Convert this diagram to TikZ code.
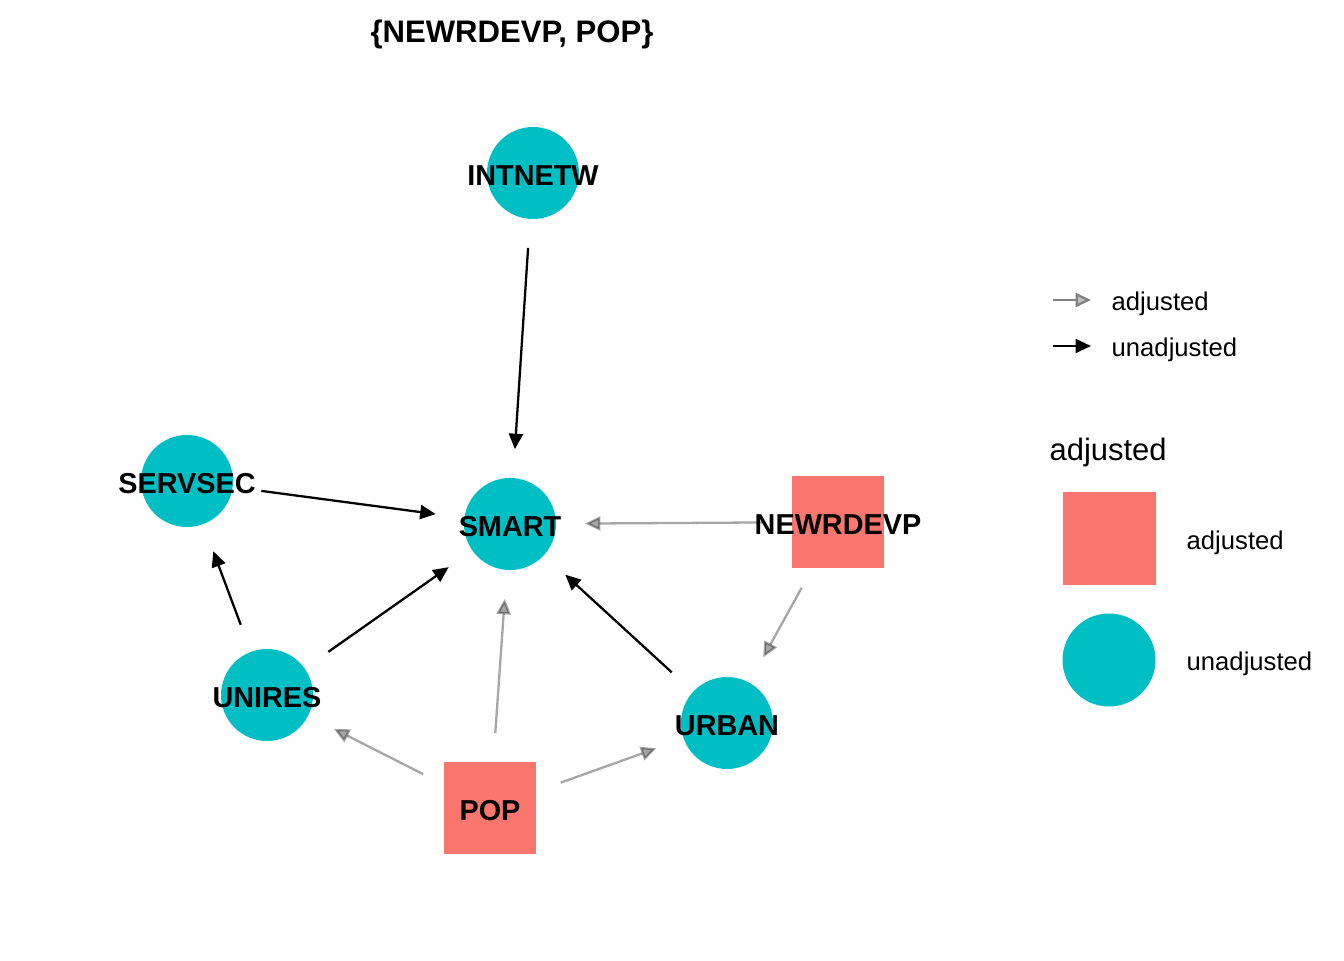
\documentclass[tikz,border=0pt]{standalone}
\usepackage{fontspec}
\setmainfont{Liberation Sans}
\usepackage{tikz}
\usetikzlibrary{arrows.meta}
\definecolor{adjcol}{HTML}{F8766D}
\definecolor{unadjcol}{HTML}{00BFC4}
\tikzset{
  circnode/.style={circle, fill=unadjcol, minimum size=0.92cm, inner sep=0pt},
  sqnode/.style={rectangle, fill=adjcol, minimum size=0.92cm, inner sep=0pt},
  nodelabel/.style={font=\fontsize{8.2}{10}\selectfont\bfseries, inner sep=0pt, yshift=-0.025cm},
  legtext/.style={font=\fontsize{7.3}{9}\selectfont, anchor=west, inner sep=0pt},
  edgeu/.style={-{Triangle[length=4.4pt,width=4pt]}, line width=0.65pt, black, shorten <=0.75cm, shorten >=0.75cm},
  edgea/.style={edgeu, draw opacity=0.35, fill opacity=0.35}
}

\begin{document}
\begin{tikzpicture}
  \useasboundingbox (0,0) rectangle (13.44,9.6);
  \node[font=\fontsize{8.85}{11}\selectfont\bfseries] (title) at (5.12,9.26) {\{NEWRDEVP, POP\}};

  % nodes
  \node[circnode] (intnetw) at (5.33,7.87) {};
  \node[circnode] (servsec) at (1.87,4.79) {};
  \node[circnode] (smart) at (5.10,4.36) {};
  \node[sqnode] (newrdevp) at (8.38,4.38) {};
  \node[circnode] (unires) at (2.67,2.65) {};
  \node[circnode] (urban) at (7.27,2.37) {};
  \node[sqnode] (pop) at (4.90,1.52) {};

  % edges
  \draw[edgeu] (intnetw.center) -- (smart.center);
  \draw[edgeu] (servsec.center) -- (smart.center);
  \draw[edgea] (newrdevp.center) -- (smart.center);
  \draw[edgeu] (unires.center) -- (servsec.center);
  \draw[edgeu] (unires.center) -- (smart.center);
  \draw[edgea] (pop.center) -- (smart.center);
  \draw[edgeu] (urban.center) -- (smart.center);
  \draw[edgea] (newrdevp.center) -- (urban.center);
  \draw[edgea] (pop.center) -- (unires.center);
  \draw[edgea] (pop.center) -- (urban.center);

  % labels
  \node[nodelabel] (intnetw-l) at (intnetw) {INTNETW};
  \node[nodelabel] (servsec-l) at (servsec) {SERVSEC};
  \node[nodelabel] (smart-l) at (smart) {SMART};
  \node[nodelabel] (newrdevp-l) at (newrdevp) {NEWRDEVP};
  \node[nodelabel] (unires-l) at (unires) {UNIRES};
  \node[nodelabel] (urban-l) at (urban) {URBAN};
  \node[nodelabel] (pop-l) at (pop) {POP};

  % legend
  \coordinate (la1) at (10.53,6.60);
  \coordinate (la2) at (10.91,6.60);
  \coordinate (lu1) at (10.53,6.14);
  \coordinate (lu2) at (10.91,6.14);
  \draw[-{Triangle[length=4.4pt,width=4pt,fill=gray!50]}, line width=0.65pt, gray] (la1) -- (la2);
  \draw[-{Triangle[length=4.4pt,width=4pt]}, line width=0.65pt] (lu1) -- (lu2);
  \node[legtext] (la-t) at (11.11,6.56) {adjusted};
  \node[legtext] (lu-t) at (11.11,6.10) {unadjusted};
  \node[legtext, font=\fontsize{8.8}{11}\selectfont] (leghead) at (10.49,5.07) {adjusted};
  \node[sqnode, minimum size=0.93cm] (legsq) at (11.09,4.22) {};
  \node[circnode, minimum size=0.93cm] (legcirc) at (11.09,3.00) {};
  \node[legtext] (legsq-t) at (11.86,4.17) {adjusted};
  \node[legtext] (legcirc-t) at (11.86,2.96) {unadjusted};
\end{tikzpicture}
\end{document}
